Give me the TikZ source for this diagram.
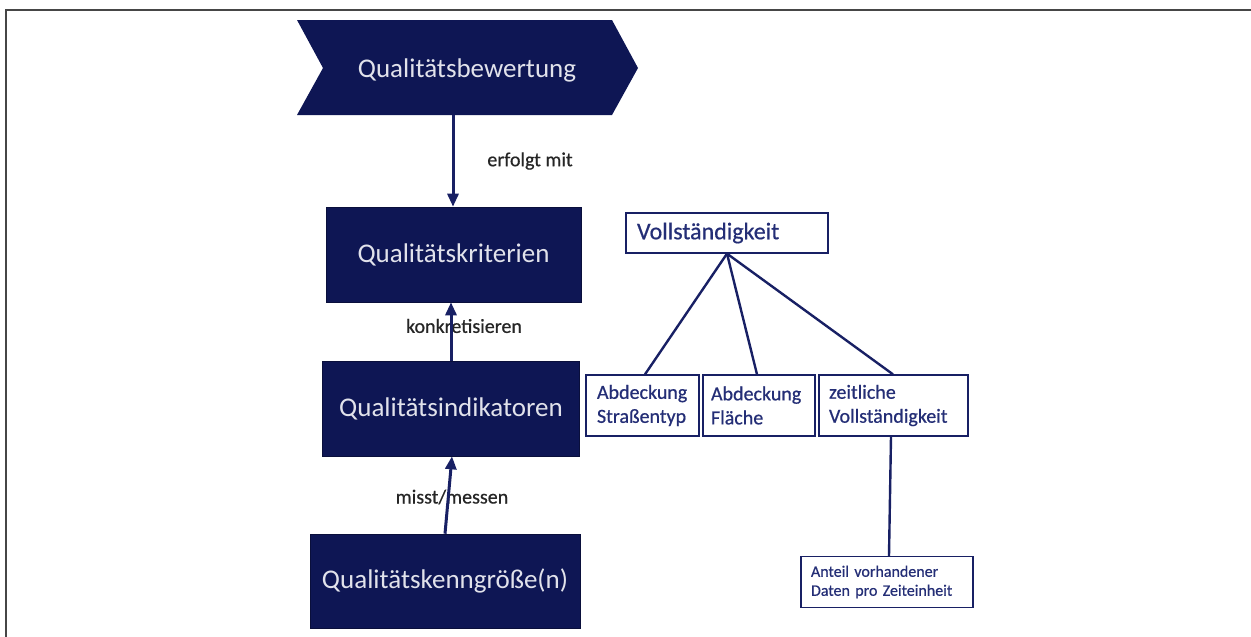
\documentclass[tikz,border=0pt]{standalone}
\usepackage{fontspec}
\setmainfont{Carlito}
\newfontfamily\heavyfont[FakeBold=0.6]{Carlito}
\usetikzlibrary{arrows.meta}
\definecolor{navy}{RGB}{14,22,84}
\definecolor{navyline}{RGB}{24,32,100}
\definecolor{navytext}{RGB}{36,46,118}
\definecolor{boxtext}{RGB}{225,226,235}
\definecolor{frame}{RGB}{70,70,70}
\tikzset{
  darkbox/.style={rectangle, fill=navy, draw=navy!70!black, line width=0.6pt, inner sep=0pt,
    text=boxtext, font=\fontsize{27}{32}\selectfont},
  lightbox/.style={rectangle, draw=navyline, line width=1.3pt, fill=white, text=navytext,
    align=left, anchor=center, inner ysep=0pt},
  rel/.style={draw=navyline, line width=3pt, -{Triangle[length=13pt,width=11pt]}},
  tie/.style={draw=navyline, line width=2.4pt},
  lbl/.style={text=black!85, font=\heavyfont\fontsize{20}{24}\selectfont, inner sep=1pt},
}
\begin{document}
\begin{tikzpicture}[x=1pt,y=-1pt]
\useasboundingbox (0,0) rectangle (1251,637);
% frame
\draw[frame, line width=2pt] (1251,10) -- (6,10) -- (6,637);

% chevron
\fill[navy] (297,20) -- (612,20) -- (638,68) -- (612,115) -- (297,115) -- (323,68) -- cycle;
\node[inner sep=0pt, minimum width=315pt, minimum height=95pt] (bew) at (454,67.5) {};
\node[text=boxtext, font=\fontsize{27}{32}\selectfont, inner sep=0pt] (bewtext) at (467,70) {Qualitätsbewertung};

% main boxes
\node[darkbox, minimum width=255pt, minimum height=95pt] (kri) at (453.5,254.5) {Qualitätskriterien};
\node[darkbox, minimum width=257pt, minimum height=95pt] (ind) at (451,408.5) {Qualitätsindikatoren};
\node[darkbox, minimum width=270pt, minimum height=94pt] (kg) at (445,581) {Qualitätskenngröße(n)};

% relation labels
\node[lbl] (l1) at (530,161) {erfolgt mit};
\node[lbl] (l2) at (464,326) {konkretisieren};
\node[lbl] (l3) at (452,497) {misst/messen};

% relations
\draw[rel] ([xshift=-1pt]bew.south) -- ([xshift=-0.5pt]kri.north);
\draw[rel] (ind.north) -- (ind.north |- kri.south);
\draw[rel] (kg.north) -- ([xshift=1pt]ind.south);

% completeness tree
\node[lightbox, minimum width=202pt, minimum height=40pt, text width=180pt, inner xsep=11pt,
  font=\heavyfont\fontsize{24}{28}\selectfont] (voll) at (727,233) {Vollständigkeit};
\node[lightbox, minimum width=113pt, minimum height=61pt, text width=91pt, inner xsep=11pt,
  font=\heavyfont\fontsize{20}{24}\selectfont] (str) at (642.5,405.5) {Abdeckung\\Straßentyp};
\node[lightbox, minimum width=112pt, minimum height=61pt, text width=96pt, inner xsep=8pt,
  font=\heavyfont\fontsize{20}{24}\selectfont] (fl) at (759,405.5) {Abdeckung\\Fläche};
\node[lightbox, minimum width=149pt, minimum height=61pt, text width=129pt, inner xsep=10pt,
  font=\heavyfont\fontsize{20}{24}\selectfont] (zeit) at (893.5,405.5) {zeitliche\\Vollständigkeit};
\node[lightbox, minimum width=172pt, minimum height=51pt, text width=152pt, inner xsep=10pt,
  font=\heavyfont\fontsize{16}{19}\selectfont] (ant) at (887,582) {Anteil vorhandener\\Daten pro Zeiteinheit};

\draw[tie] (voll.south) -- ([xshift=2.5pt]str.north);
\draw[tie] (voll.south) -- ([xshift=-2pt]fl.north);
\draw[tie] (voll.south) -- ([xshift=-0.5pt]zeit.north);
\draw[tie] ([xshift=-2.5pt]zeit.south) -- ([xshift=2pt]ant.north);
\end{tikzpicture}
\end{document}
